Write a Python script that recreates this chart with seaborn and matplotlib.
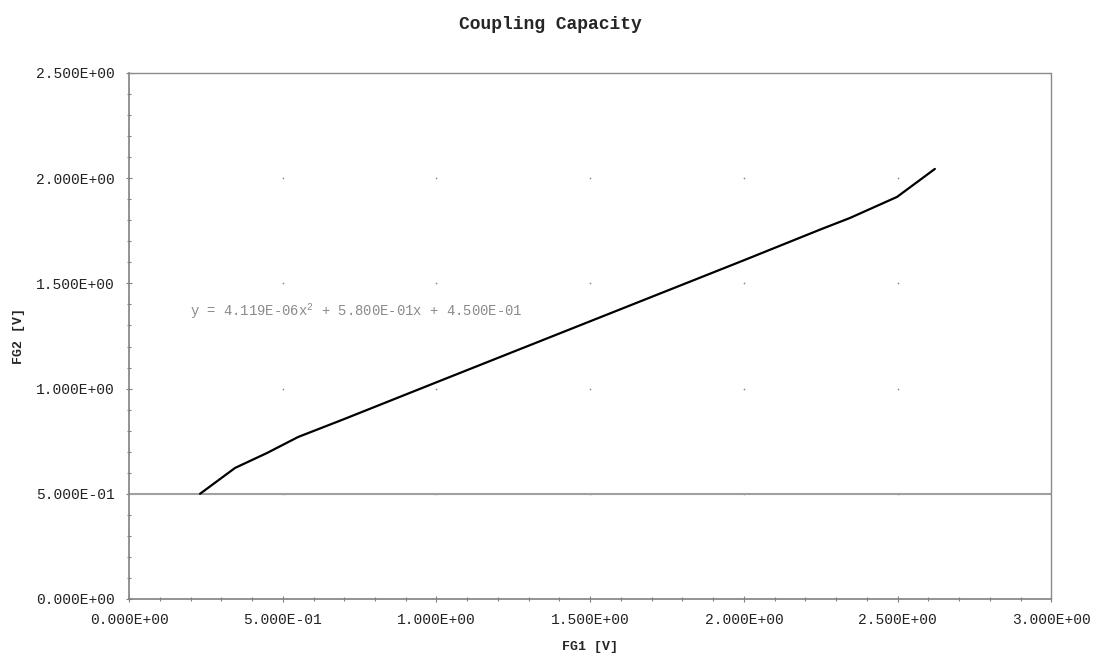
import numpy as np
import pandas as pd
import seaborn as sns
import matplotlib.pyplot as plt
from matplotlib.ticker import MultipleLocator, FormatStrFormatter

fg1 = [0.231, 0.345, 0.449, 0.550, 0.696, 1.000, 1.500, 2.000, 2.250, 2.345, 2.498, 2.621]
fg2 = [0.500, 0.623, 0.694, 0.770, 0.853, 1.030, 1.320, 1.610, 1.757, 1.811, 1.911, 2.044]

x_ticks = [0.0, 0.5, 1.0, 1.5, 2.0, 2.5, 3.0]
y_ticks = [0.0, 0.5, 1.0, 1.5, 2.0, 2.5]
ref_level = 0.5
fit_text = "y = 4.119E-06x$^{2}$ + 5.800E-01x + 4.500E-01"

df = pd.DataFrame({"FG1": fg1, "FG2": fg2})

sns.set_style("white")
plt.rcParams['font.family'] = ['Liberation Mono', 'DejaVu Sans Mono']
plt.rcParams['mathtext.fontset'] = 'custom'
plt.rcParams['mathtext.rm'] = 'Liberation Mono'

fig = plt.figure(figsize=(11, 6.57), dpi=100)
ax = fig.add_axes([0.1173, 0.0883, 0.8385, 0.8006])

# grid dots at the intersections only
gx, gy = np.meshgrid(x_ticks[1:-1], y_ticks[1:-1])
ax.scatter(gx.ravel(), gy.ravel(), s=1.5, color='#888888', zorder=1, linewidths=0)

ax.axhline(ref_level, color='#a0a0a0', lw=1.5, zorder=2)

sns.lineplot(data=df, x="FG1", y="FG2", sort=False, color='black', lw=1.6, ax=ax, zorder=3)

ax.text(0.198, 1.369, fit_text, fontsize=10, color='#8a8a8a', ha='left', va='center')

ax.set_xlim(x_ticks[0], x_ticks[-1])
ax.set_ylim(y_ticks[0], y_ticks[-1])
ax.set_xticks(x_ticks)
ax.set_yticks(y_ticks)
ax.xaxis.set_minor_locator(MultipleLocator(0.1))
ax.yaxis.set_minor_locator(MultipleLocator(0.1))
ax.xaxis.set_major_formatter(FormatStrFormatter('%.3E'))
ax.yaxis.set_major_formatter(FormatStrFormatter('%.3E'))
ax.tick_params(axis='both', which='major', labelsize=10.5, length=4, width=0.8,
               color='#808080', direction='inout', pad=8, labelcolor='#222222')
ax.tick_params(axis='both', which='minor', length=3, width=0.8, color='#808080', direction='inout')
ax.tick_params(left=True, bottom=True, which='both')

for side in ['left', 'bottom']:
    ax.spines[side].set_color('#808080')
    ax.spines[side].set_linewidth(1.2)
for side in ['top', 'right']:
    ax.spines[side].set_color('#8a8a8a')
    ax.spines[side].set_linestyle((0, (1, 1)))
    ax.spines[side].set_linewidth(1.0)

ax.set_xlabel("FG1 [V]", fontsize=9.5, fontweight='bold', labelpad=10)
ax.set_ylabel("FG2 [V]", fontsize=9.5, fontweight='bold', labelpad=8)
fig.suptitle("Coupling Capacity", fontsize=13, fontweight='bold', y=0.975)

plt.savefig('out.png', dpi=100)
